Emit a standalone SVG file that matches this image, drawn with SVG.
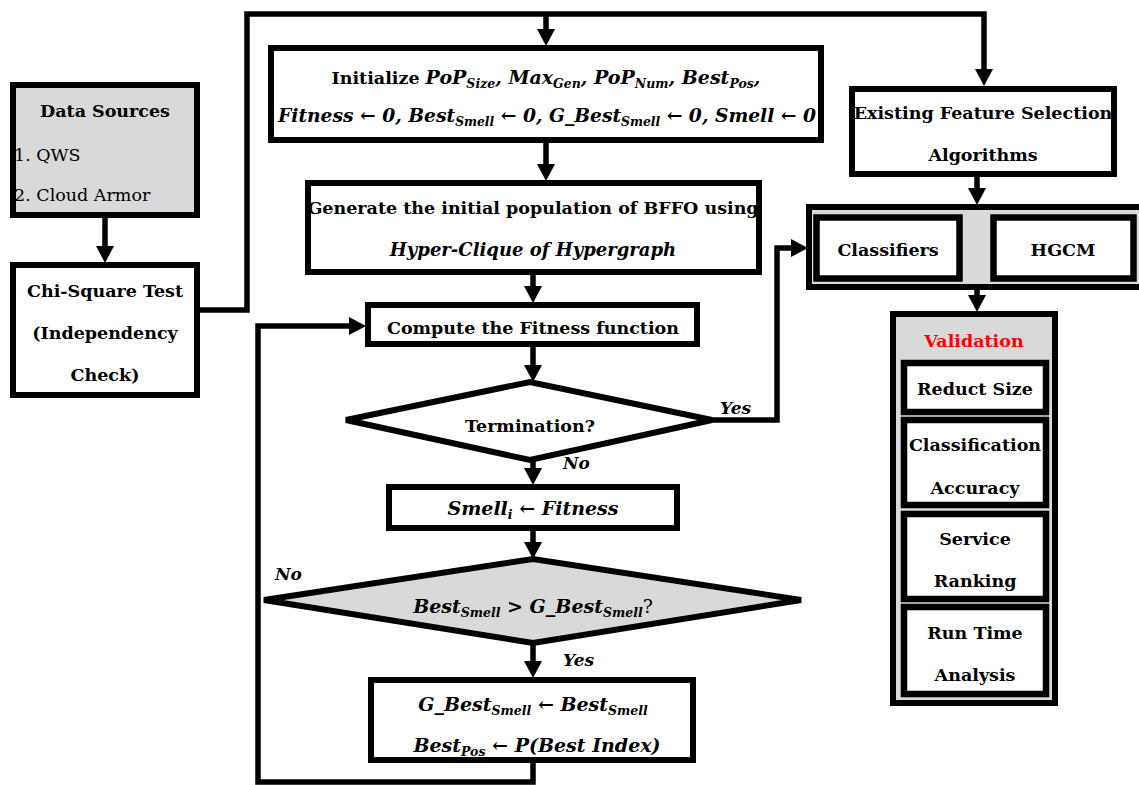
<svg xmlns="http://www.w3.org/2000/svg" width="1139" height="785" viewBox="0 0 1139 785">
<style>
.box{fill:#fff;stroke:#000;stroke-width:6}
.gray{fill:#d9d9d9;stroke:#000;stroke-width:6}
.inner{fill:#fff;stroke:#000;stroke-width:6.5}
.t{font-family:"DejaVu Serif","Liberation Serif",serif;font-weight:bold;font-size:17.5px;fill:#000;text-anchor:middle}
.r{font-family:"DejaVu Serif","Liberation Serif",serif;font-size:17.5px;fill:#000}
.m{font-family:"DejaVu Serif","Liberation Serif",serif;font-weight:bold;font-style:italic;font-size:19px;fill:#000;text-anchor:middle}
.lbl{font-family:"DejaVu Serif","Liberation Serif",serif;font-weight:bold;font-style:italic;font-size:17px;fill:#000}
.s{font-size:12.5px}
.c{fill:none;stroke:#000;stroke-width:5.5;stroke-linejoin:miter}
</style>
<defs>
<marker id="ah" markerUnits="userSpaceOnUse" markerWidth="17" markerHeight="18" refX="1" refY="9" orient="auto" viewBox="0 0 17 18">
<path d="M0,0 L17,9 L0,18 z" fill="#000"/>
</marker>
</defs>

<g id="connectors">
<path class="c" d="M105,218 V247" marker-end="url(#ah)"/>
<path class="c" d="M200,310 H247 V14 H984 V70" marker-end="url(#ah)"/>
<path class="c" d="M546,14 V30" marker-end="url(#ah)"/>
<path class="c" d="M546,143 V165" marker-end="url(#ah)"/>
<path class="c" d="M533,275 V287" marker-end="url(#ah)"/>
<path class="c" d="M533,347 V366" marker-end="url(#ah)"/>
<path class="c" d="M533,460 V469" marker-end="url(#ah)"/>
<path class="c" d="M533,531 V543" marker-end="url(#ah)"/>
<path class="c" d="M533,643 V662" marker-end="url(#ah)"/>
<path class="c" d="M533,763 V782 H258 V326 H350" marker-end="url(#ah)"/>
<path class="c" d="M712,420 H777 V248 H792" marker-end="url(#ah)"/>
<path class="c" d="M977,177 V189" marker-end="url(#ah)"/>
<path class="c" d="M977,290 V296" marker-end="url(#ah)"/>
</g>

<g id="data-sources">
<rect class="gray" x="13" y="85" width="184" height="130"/>
<text class="t" x="105" y="117">Data Sources</text>
<text class="r" x="14" y="161">1. QWS</text>
<text class="r" x="14" y="201">2. Cloud Armor</text>
</g>

<g id="chi-square">
<rect class="box" x="13" y="265" width="184" height="130"/>
<text class="t" x="105" y="297">Chi-Square Test</text>
<text class="t" x="105" y="339">(Independency</text>
<text class="t" x="105" y="381">Check)</text>
</g>

<g id="initialize">
<rect class="box" x="271" y="48" width="550" height="92"/>
<text class="t" x="546" y="84">Initialize <tspan font-style="italic" font-size="19px">PoP<tspan class="s" dy="4">Size</tspan><tspan dy="-4">, Max</tspan><tspan class="s" dy="4">Gen</tspan><tspan dy="-4">, PoP</tspan><tspan class="s" dy="4">Num</tspan><tspan dy="-4">, Best</tspan><tspan class="s" dy="4">Pos</tspan><tspan dy="-4">,</tspan></tspan></text>
<text class="m" x="547" y="122" textLength="538" lengthAdjust="spacingAndGlyphs">Fitness ← 0, Best<tspan class="s" dy="4">Smell</tspan><tspan dy="-4"> ← 0, G_Best</tspan><tspan class="s" dy="4">Smell</tspan><tspan dy="-4"> ← 0, Smell ← 0</tspan></text>
</g>

<g id="generate">
<rect class="box" x="308" y="183" width="451" height="89"/>
<text class="t" x="533" y="214">Generate the initial population of BFFO using</text>
<text class="m" x="533" y="256" style="font-size:18px">Hyper-Clique of Hypergraph</text>
</g>

<g id="compute">
<rect class="box" x="368" y="305" width="329" height="39"/>
<text class="t" x="533" y="334">Compute the Fitness function</text>
</g>

<g id="termination">
<polygon class="box" points="346,420 530,382 712,420 530,460"/>
<text class="t" x="530" y="432">Termination?</text>
</g>

<g id="smell">
<rect class="box" x="389" y="487" width="288" height="41"/>
<text class="m" x="533" y="515">Smell<tspan class="s" dy="4">i</tspan><tspan dy="-4"> ← Fitness</tspan></text>
</g>

<g id="compare">
<polygon class="gray" points="264,600 533,559 801,600 533,643"/>
<text class="m" x="533" y="613">Best<tspan class="s" dy="4">Smell</tspan><tspan dy="-4"> &gt; G_Best</tspan><tspan class="s" dy="4">Smell</tspan><tspan dy="-4" font-style="normal" font-weight="normal">?</tspan></text>
</g>

<g id="update">
<rect class="box" x="371" y="680" width="322" height="80"/>
<text class="m" x="533" y="711">G_Best<tspan class="s" dy="4">Smell</tspan><tspan dy="-4"> ← Best</tspan><tspan class="s" dy="4">Smell</tspan></text>
<text class="m" x="537" y="752">Best<tspan class="s" dy="4">Pos</tspan><tspan dy="-4"> ← P(Best Index)</tspan></text>
</g>

<g id="labels">
<text class="lbl" x="720" y="414">Yes</text>
<text class="lbl" x="563" y="469">No</text>
<text class="lbl" x="275" y="580">No</text>
<text class="lbl" x="563" y="666">Yes</text>
</g>

<g id="existing">
<rect class="box" x="852" y="89" width="262" height="85"/>
<text class="t" x="983" y="119">Existing Feature Selection</text>
<text class="t" x="983" y="161">Algorithms</text>
</g>

<g id="models">
<rect class="gray" x="809" y="207" width="340" height="80"/>
<g id="classifiers">
<rect class="inner" x="816.5" y="217.5" width="143" height="61"/>
<text class="t" x="888" y="256">Classifiers</text>
</g>
<g id="hgcm">
<rect class="inner" x="993.5" y="217.5" width="140" height="61"/>
<text class="t" x="1063" y="256">HGCM</text>
</g>
</g>

<g id="validation">
<rect class="gray" x="893" y="314" width="162" height="389"/>
<text class="t" x="974" y="347" style="fill:#ff0000">Validation</text>
<g id="reduct">
<rect class="inner" x="904" y="363" width="142" height="49"/>
<text class="t" x="975" y="395">Reduct Size</text>
</g>
<g id="accuracy">
<rect class="inner" x="904" y="420" width="142" height="85"/>
<text class="t" x="975" y="451">Classification</text>
<text class="t" x="975" y="494">Accuracy</text>
</g>
<g id="ranking">
<rect class="inner" x="904" y="514" width="142" height="85"/>
<text class="t" x="975" y="545">Service</text>
<text class="t" x="975" y="587">Ranking</text>
</g>
<g id="runtime">
<rect class="inner" x="904" y="607" width="142" height="87"/>
<text class="t" x="975" y="639">Run Time</text>
<text class="t" x="975" y="681">Analysis</text>
</g>
</g>
</svg>
